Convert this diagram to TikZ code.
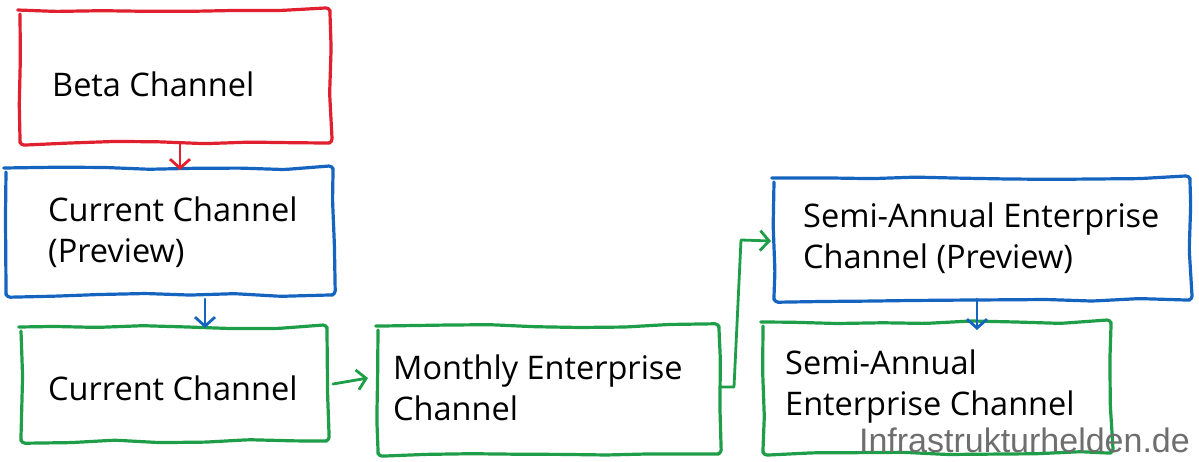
\documentclass[tikz,border=0pt]{standalone}
\usepackage{fontspec}
\setmainfont{Open Sans}
\newfontfamily\wmfont{Liberation Sans}
\usetikzlibrary{arrows.meta,decorations.pathmorphing}
\definecolor{cred}{HTML}{E0202E}
\definecolor{cblue}{HTML}{1565C0}
\definecolor{cgreen}{HTML}{1E9E48}
\definecolor{wm}{HTML}{6E6E6E}
\tikzset{
  sketch/.style={line width=3.2pt, line join=round, line cap=round,
    decorate, decoration={random steps, segment length=45pt, amplitude=1.6pt}, rounded corners=4pt},
  lbl/.style={anchor=west, align=left, inner sep=0pt, font=\fontsize{32.5}{41}\selectfont},
  arr/.style={line width=2.8pt, line cap=round, line join=round, -{Straight Barb[length=9pt,width=20pt,line width=2.8pt]}}
}
\begin{document}
\begin{tikzpicture}[x=1pt,y=-1pt]
\pgfmathsetseed{7}
\useasboundingbox (0,0) rectangle (1199,461);
% boxes as named coordinates
\coordinate (b1a) at (20,10); \coordinate (b1b) at (330,143);
\coordinate (b2a) at (6,168); \coordinate (b2b) at (333,295);
\coordinate (b3a) at (21,327); \coordinate (b3b) at (327,441);
\coordinate (b4a) at (378,326); \coordinate (b4b) at (719,454);
\coordinate (b5a) at (774,178); \coordinate (b5b) at (1190,300);
\coordinate (b6a) at (763,322); \coordinate (b6b) at (1111,453);
\draw[sketch, cred] (b1a) rectangle (b1b);
\draw[sketch, cblue] (b2a) rectangle (b2b);
\draw[sketch, cgreen] (b3a) rectangle (b3b);
\draw[sketch, cgreen] (b4a) rectangle (b4b);
\draw[sketch, cblue] (b5a) rectangle (b5b);
\draw[sketch, cgreen] (b6a) rectangle (b6b);
% labels
\node[lbl] (t1) at (52,84) {Beta Channel};
\node[lbl] (t2) at (48,232) {Current Channel\\(Preview)};
\node[lbl] (t3) at (48,388) {Current Channel};
\node[lbl] (t4) at (393,388) {Monthly Enterprise\\Channel};
\node[lbl] (t5) at (803,238) {Semi-Annual Enterprise\\Channel (Preview)};
\node[lbl] (t6) at (785,387) {Semi-Annual\\Enterprise Channel};
% connectors
\coordinate (a1s) at (180,143); \coordinate (a1e) at (180,170);
\coordinate (a2s) at (205,299); \coordinate (a2e) at (205,328);
\coordinate (a3s) at (333,384); \coordinate (a3e) at (368,378);
\coordinate (a4s) at (720,387); \coordinate (a4m) at (734,387);
\coordinate (a4n) at (741,240); \coordinate (a4e) at (771,241);
\coordinate (a5s) at (977,299); \coordinate (a5e) at (977,330);
\draw[arr, cred] (a1s) -- (a1e);
\draw[arr, cblue] (a2s) -- (a2e);
\draw[arr, cgreen] (a3s) -- (a3e);
\draw[arr, cgreen] (a4s) -- (a4m) -- (a4n) -- (a4e);
\draw[arr, cblue] (a5s) -- (a5e);
% watermark
\node[anchor=base east, inner sep=0pt, text=wm, font=\wmfont\fontsize{34}{34}\selectfont] (wm) at (1190,452) {Infrastrukturhelden.de};
\end{tikzpicture}
\end{document}
